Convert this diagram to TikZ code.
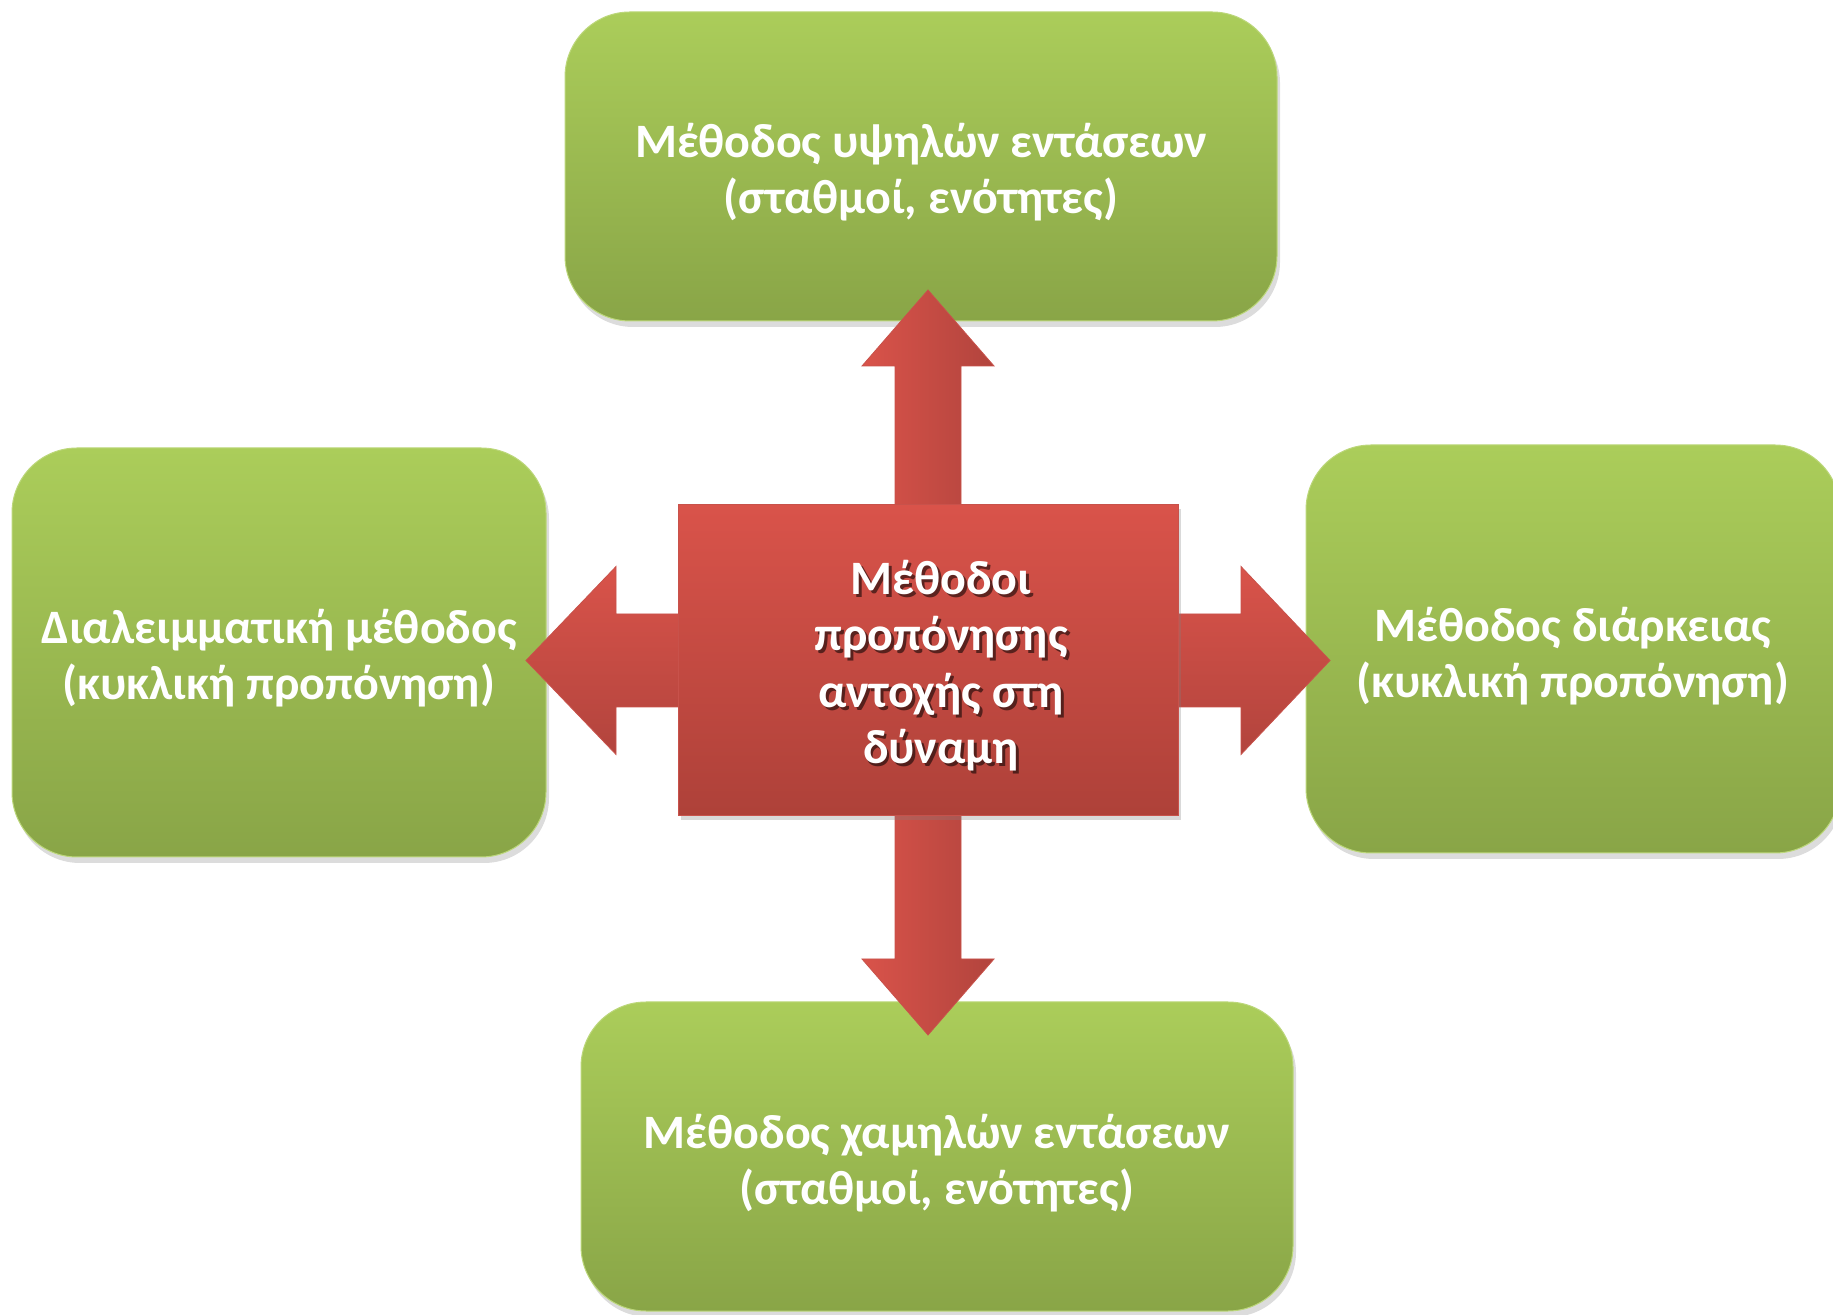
\documentclass[tikz,border=0pt]{standalone}
\usepackage{fontspec}
\setmainfont{Carlito}
\usetikzlibrary{shadows,calc}
\definecolor{gtop}{HTML}{ABCD5A}
\definecolor{gbot}{HTML}{89A547}
\definecolor{rtop}{HTML}{D9534A}
\definecolor{rbot}{HTML}{AE4139}
\definecolor{rdark}{HTML}{B2443D}
\definecolor{redge}{HTML}{C8524B}
\tikzset{
  greenbox/.style={rounded corners=65pt, top color=gtop, bottom color=gbot,
    draw=gtop!80!white, line width=1pt,
    drop shadow={opacity=0.28, shadow xshift=3pt, shadow yshift=-6pt},
    inner sep=0pt},
  gtext/.style={text=white, align=center, inner sep=0pt,
    font=\fontsize{48}{56}\selectfont\bfseries},
  redbox/.style={top color=rtop, bottom color=rbot, draw=redge, line width=1pt,
    drop shadow={opacity=0.3, shadow xshift=3pt, shadow yshift=-4pt},
    inner sep=0pt},
  ctext/.style={align=center, font=\fontsize{48}{56.5}\selectfont\bfseries},
  varrow/.style={left color=rtop, right color=rdark, draw=redge, line width=0.8pt},
  harrow/.style={top color=rtop, bottom color=rdark, draw=redge, line width=0.8pt},
}
\begin{document}
\begin{tikzpicture}[x=1pt,y=1pt]
\useasboundingbox (0,0) rectangle (1833,1314);
% green boxes
\node[greenbox, minimum width=712pt, minimum height=309pt] (top) at (921,1147.5) {};
\node[greenbox, minimum width=534pt, minimum height=409pt] (left) at (279,661.5) {};
\node[greenbox, minimum width=534pt, minimum height=408pt] (right) at (1573,665) {};
\node[greenbox, minimum width=712pt, minimum height=309pt] (bottom) at (937,157.5) {};
\node[gtext] (toptxt) at ($(top.center)+(0,-6)$) {Μέθοδος υψηλών εντάσεων\\(σταθμοί, ενότητες)};
\node[gtext] (lefttxt) at ($(left.center)+(0,-6)$) {Διαλειμματική μέθοδος\\(κυκλική προπόνηση)};
\node[gtext] (righttxt) at ($(right.center)+(0,-7)$) {Μέθοδος διάρκειας\\(κυκλική προπόνηση)};
\node[gtext] (bottomtxt) at ($(bottom.center)+(0,-7)$) {Μέθοδος χαμηλών εντάσεων\\(σταθμοί, ενότητες)};
% arrows
\coordinate (cc) at (928,653.5);
\path[varrow] (cc) ++(-33,0) -- ++(0,294.5) -- ++(-33,0) -- ++(66,76) -- ++(66,-76) -- ++(-33,0) -- ++(0,-294.5) -- cycle;
\path[varrow] (cc) ++(-33,0) -- ++(0,-298.5) -- ++(-33,0) -- ++(66,-76) -- ++(66,76) -- ++(-33,0) -- ++(0,298.5) -- cycle;
\path[harrow] (cc) ++(0,46.5) -- ++(-312,0) -- ++(0,47.5) -- ++(-90,-94) -- ++(90,-94) -- ++(0,47.5) -- ++(312,0) -- cycle;
\path[harrow] (cc) ++(0,46.5) -- ++(313,0) -- ++(0,47.5) -- ++(89,-94) -- ++(-89,-94) -- ++(0,47.5) -- ++(-313,0) -- cycle;
% centre
\node[redbox, minimum width=500pt, minimum height=311pt] (c) at (cc) {};
\node[ctext, text=black, opacity=0.55] (cshadow) at ($(c.center)+(16,-8)$)
  {Μέθοδοι\\προπόνησης\\αντοχής στη\\δύναμη};
\node[ctext, text=white] (ctxt) at ($(c.center)+(13,-5)$)
  {Μέθοδοι\\προπόνησης\\αντοχής στη\\δύναμη};
\end{tikzpicture}
\end{document}
